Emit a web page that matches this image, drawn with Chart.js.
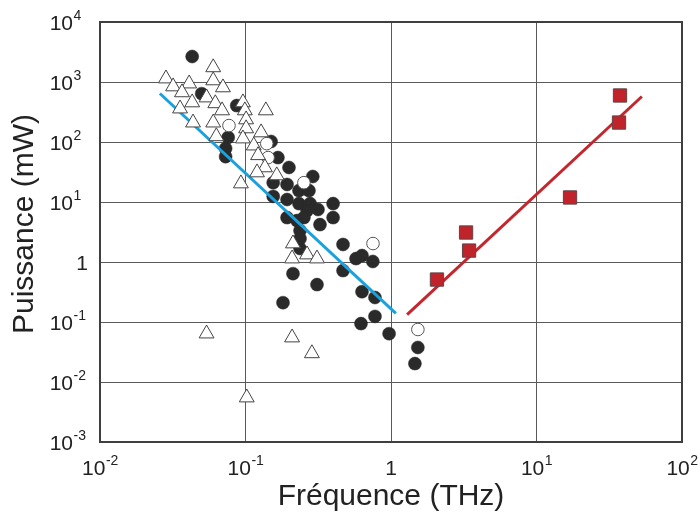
<!DOCTYPE html>
<html>
<head>
<meta charset="utf-8">
<script src="https://cdn.jsdelivr.net/npm/chart.js@4"></script>
<style>
  body { margin: 0; background: #fff; }
  #wrap { width: 700px; height: 512px; }
</style>
</head>
<body>
<div id="wrap"><canvas id="chart" width="700" height="512"></canvas></div>
<script>
// axis ticks (decades only) and their labels, "^" marks the exponent
const xTicks = [0.01, 0.1, 1, 10, 100];
const xTickLabels = ["10^-2", "10^-1", "1", "10^1", "10^2"];
const yTicks = [0.001, 0.01, 0.1, 1, 10, 100, 1000, 10000];
const yTickLabels = ["10^-3", "10^-2", "10^-1", "1", "10^1", "10^2", "10^3", "10^4"];

// filled circles
const filledFreq = [0.043, 0.050, 0.087, 0.150, 0.076, 0.073, 0.073, 0.167, 0.199, 0.29, 0.155, 0.193, 0.233, 0.273, 0.155, 0.193, 0.40, 0.233, 0.278, 0.315, 0.265, 0.193, 0.40, 0.252, 0.226, 0.325, 0.237, 0.237, 0.468, 0.237, 0.575, 0.632, 0.75, 0.212, 0.468, 0.31, 0.181, 0.632, 0.776, 0.776, 0.622, 0.97, 1.53, 1.46];
const filledPow = [2660, 640, 405, 102, 119, 78, 57, 55, 37.6, 26.6, 21, 19.6, 15.5, 15.5, 12.4, 11, 9.4, 9.4, 9.4, 7.5, 7.2, 5.5, 5.5, 5.5, 4.9, 4.2, 3.35, 2.46, 1.96, 1.68, 1.14, 1.28, 1.02, 0.64, 0.72, 0.42, 0.21, 0.32, 0.256, 0.124, 0.094, 0.064, 0.0376, 0.0203];

// open circles
const openFreq = [0.077, 0.14, 0.143, 0.252, 0.752, 1.53];
const openPow = [188, 94, 55, 21, 2.03, 0.075];

// open triangles
const triFreq = [0.0284, 0.0318, 0.041, 0.0366, 0.060, 0.060, 0.070, 0.054, 0.043, 0.062, 0.0355, 0.069, 0.0436, 0.060, 0.063, 0.096, 0.099, 0.101, 0.101, 0.096, 0.128, 0.138, 0.114, 0.122, 0.136, 0.120, 0.164, 0.093, 0.212, 0.265, 0.31, 0.209, 0.054, 0.209, 0.286, 0.102];
const triPow = [1140, 840, 940, 670, 1750, 1060, 810, 550, 455, 440, 360, 335, 210, 210, 124, 455, 335, 237, 168, 114, 144, 335, 87, 60, 37.6, 31, 27.7, 20.3, 2.03, 1.33, 1.14, 1.14, 0.064, 0.055, 0.030, 0.0055];

// red squares
const sqFreq = [2.07, 3.28, 3.44, 17.0, 37.5, 36.9];
const sqPow = [0.51, 3.1, 1.55, 11.9, 596, 211];

// trend lines (end points)
const blueFreq = [0.0258, 1.08];
const bluePow = [643, 0.139];
const redFreq = [1.29, 53];
const redPow = [0.133, 573];

const pts = (xs, ys) => xs.map((x, i) => ({ x, y: ys[i] }));

function drawLabel(ctx, label, x, y, align) {
    const [base, sup] = label.split("^");
    ctx.font = "21px 'Liberation Sans', Arial, sans-serif";
    const bw = ctx.measureText(base).width;
    ctx.font = "14px 'Liberation Sans', Arial, sans-serif";
    const sw = sup ? ctx.measureText(sup).width : 0;
    // x axis: whole label centred; y axis: base ends at x
    const left = align === "center" ? x - (bw + sw) / 2 : x - bw;
    ctx.textAlign = "left";
    ctx.textBaseline = "alphabetic";
    ctx.font = "21px 'Liberation Sans', Arial, sans-serif";
    ctx.fillText(base, left, y + 7.5);
    if (sup) {
        ctx.font = "14px 'Liberation Sans', Arial, sans-serif";
        ctx.fillText(sup, left + bw + 0.5, y - 2);
    }
}

const decor = {
    id: "decor",
    beforeDatasetsDraw(chart) {
        const { ctx, chartArea: a } = chart;
        ctx.save();
        ctx.strokeStyle = "#3f3f3f";
        ctx.lineWidth = 2;
        ctx.strokeRect(a.left, a.top, a.right - a.left, a.bottom - a.top);
        ctx.restore();
    },
    afterDraw(chart) {
        const { ctx, chartArea: a, scales: { x, y } } = chart;
        ctx.save();
        ctx.fillStyle = "#222";
        yTicks.forEach((v, i) => {
            const py = y.getPixelForValue(v);
            const lab = yTickLabels[i];
            drawLabel(ctx, lab, lab.includes("^") ? a.left - 27 : a.left - 12, py, "right");
        });
        xTicks.forEach((v, i) => {
            drawLabel(ctx, xTickLabels[i], x.getPixelForValue(v), 467, "center");
        });
        ctx.font = "30px 'Liberation Sans', Arial, sans-serif";
        ctx.textAlign = "center";
        ctx.textBaseline = "middle";
        ctx.fillText("Fréquence (THz)", (a.left + a.right) / 2, 497);
        ctx.translate(25, (a.top + a.bottom) / 2 - 8);
        ctx.rotate(-Math.PI / 2);
        ctx.fillText("Puissance (mW)", 0, 0);
        ctx.restore();
    }
};

new Chart(document.getElementById("chart"), {
    type: "scatter",
    data: {
        datasets: [{
            label: "blue",
            type: "line",
            data: pts(blueFreq, bluePow),
            borderColor: "#1ba1dd",
            borderWidth: 3,
            pointRadius: 0,
            order: 4
        }, {
            label: "red",
            type: "line",
            data: pts(redFreq, redPow),
            borderColor: "#c4262e",
            borderWidth: 3,
            pointRadius: 0,
            order: 4
        }, {
            label: "filled",
            data: pts(filledFreq, filledPow),
            pointStyle: "circle",
            pointRadius: 6.5,
            backgroundColor: "#2a2a2a",
            borderColor: "#2a2a2a",
            borderWidth: 0.5,
            order: 5
        }, {
            label: "open",
            data: pts(openFreq, openPow),
            pointStyle: "circle",
            pointRadius: 6.3,
            backgroundColor: "#ffffff",
            borderColor: "#555",
            borderWidth: 1,
            order: 3
        }, {
            label: "triangles",
            data: pts(triFreq, triPow),
            pointStyle: "triangle",
            pointRadius: 8.6,
            backgroundColor: "#ffffff",
            borderColor: "#444",
            borderWidth: 1,
            order: 2
        }, {
            label: "squares",
            data: pts(sqFreq, sqPow),
            pointStyle: "rect",
            pointRadius: 9.4,
            backgroundColor: "#c1232b",
            borderColor: "#5e4444",
            borderWidth: 1,
            order: 1
        }]
    },
    options: {
        responsive: false,
        animation: false,
        layout: { padding: { left: 100, top: 22, right: 18, bottom: 70 } },
        plugins: { legend: { display: false }, tooltip: { enabled: false } },
        scales: {
            x: {
                type: "logarithmic",
                min: 0.01,
                max: 100,
                afterBuildTicks: s => { s.ticks = xTicks.map(v => ({ value: v })); },
                ticks: { display: false },
                grid: { color: "#5a5a5a", lineWidth: 1, drawTicks: false },
                border: { display: false }
            },
            y: {
                type: "logarithmic",
                min: 0.001,
                max: 10000,
                afterBuildTicks: s => { s.ticks = yTicks.map(v => ({ value: v })); },
                ticks: { display: false },
                grid: { color: "#5a5a5a", lineWidth: 1, drawTicks: false },
                border: { display: false }
            }
        }
    },
    plugins: [decor]
});
</script>
</body>
</html>
